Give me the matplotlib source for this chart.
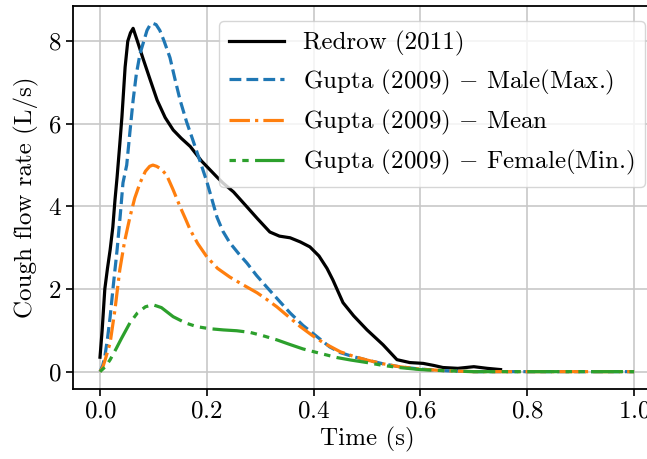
import matplotlib
matplotlib.use('Agg')
from matplotlib import pyplot as plt

# Redrow (2011)
t_redrow = [0, 0.004, 0.009, 0.014, 0.019, 0.024, 0.028, 0.032, 0.037, 0.041, 0.047, 0.052, 0.057, 0.062,
            0.07, 0.08, 0.093, 0.107, 0.122, 0.137, 0.152, 0.169, 0.19, 0.219, 0.23, 0.25, 0.275, 0.295,
            0.318, 0.336, 0.356, 0.375, 0.393, 0.41, 0.425, 0.436, 0.455, 0.475, 0.5, 0.53, 0.556, 0.58,
            0.605, 0.625, 0.642, 0.67, 0.70, 0.725, 0.75]
q_redrow = [0.35, 1.0, 2.0, 2.5, 2.95, 3.5, 4.15, 4.71, 5.5, 6.16, 7.37, 8.0, 8.2, 8.31,
            8.0, 7.6, 7.1, 6.57, 6.15, 5.85, 5.65, 5.45, 5.1, 4.71, 4.57, 4.35, 3.99, 3.7,
            3.38, 3.28, 3.24, 3.14, 3.02, 2.8, 2.5, 2.22, 1.67, 1.35, 1.01, 0.65, 0.29, 0.22,
            0.2, 0.15, 0.1, 0.08, 0.12, 0.08, 0.05]

# Gupta (2009) - male (max)
t_male = [0, 0.005, 0.009, 0.014, 0.019, 0.025, 0.032, 0.038, 0.043, 0.05, 0.056, 0.062, 0.068, 0.075,
          0.082, 0.088, 0.094, 0.099, 0.105, 0.112, 0.12, 0.131, 0.14, 0.15, 0.162, 0.174, 0.191, 0.2,
          0.21, 0.219, 0.23, 0.243, 0.26, 0.275, 0.293, 0.312, 0.335, 0.356, 0.38, 0.406, 0.43, 0.45,
          0.475, 0.5, 0.53, 0.56, 0.6, 0.65, 0.7, 0.8, 0.9, 1.0]
q_male = [0, 0.15, 0.36, 0.8, 1.33, 2.1, 2.95, 3.8, 4.57, 5.0, 5.8, 6.57, 7.2, 7.7,
          8.0, 8.26, 8.4, 8.43, 8.4, 8.26, 8.0, 7.6, 7.1, 6.57, 6.05, 5.6, 4.95, 4.6,
          4.15, 3.74, 3.4, 3.12, 2.85, 2.63, 2.33, 2.05, 1.72, 1.42, 1.12, 0.85, 0.6, 0.46,
          0.36, 0.28, 0.19, 0.12, 0.06, 0.02, 0, 0, 0, 0]

# Gupta (2009) - mean
t_mean = [0, 0.005, 0.01, 0.019, 0.028, 0.037, 0.046, 0.056, 0.065, 0.075, 0.085, 0.093, 0.099, 0.106,
          0.115, 0.125, 0.137, 0.15, 0.16, 0.169, 0.183, 0.2, 0.22, 0.243, 0.268, 0.294, 0.312, 0.331,
          0.353, 0.375, 0.397, 0.418, 0.45, 0.475, 0.5, 0.53, 0.56, 0.6, 0.65, 0.7, 0.8, 0.9, 1.0]
q_mean = [0, 0.1, 0.3, 0.7, 1.5, 2.46, 3.15, 3.74, 4.2, 4.57, 4.85, 4.97, 5.0, 4.97,
          4.9, 4.75, 4.4, 3.99, 3.7, 3.43, 3.1, 2.78, 2.5, 2.29, 2.1, 1.91, 1.75, 1.57,
          1.33, 1.09, 0.88, 0.7, 0.48, 0.37, 0.28, 0.19, 0.12, 0.06, 0.02, 0, 0, 0, 0]

# Gupta (2009) - female (min)
t_female = [0, 0.01, 0.019, 0.03, 0.04, 0.056, 0.07, 0.085, 0.099, 0.115, 0.137, 0.16, 0.181, 0.205,
            0.231, 0.256, 0.281, 0.305, 0.331, 0.355, 0.38, 0.41, 0.444, 0.47, 0.5, 0.53, 0.56, 0.6,
            0.65, 0.7, 0.8, 0.9, 1.0]
q_female = [0, 0.12, 0.29, 0.55, 0.8, 1.18, 1.42, 1.57, 1.62, 1.55, 1.33, 1.18, 1.09, 1.04,
            1.01, 0.99, 0.95, 0.87, 0.77, 0.66, 0.55, 0.45, 0.34, 0.28, 0.22, 0.15, 0.1, 0.05,
            0.02, 0, 0, 0, 0]

labels = ['Redrow (2011)', 'Gupta (2009) $-$ Male(Max.)', 'Gupta (2009) $-$ Mean',
          'Gupta (2009) $-$ Female(Min.)']

plt.rcParams['font.family'] = 'serif'
plt.rcParams['font.serif'] = ['cmr10']
plt.rcParams['mathtext.fontset'] = 'cm'
plt.rcParams['axes.formatter.use_mathtext'] = True
plt.rcParams['font.size'] = 18

fig = plt.figure(figsize=(6.47, 4.59), dpi=100)
# axes runs off the right edge like the cropped reference
ax = fig.add_axes([0.1133, 0.1525, 0.908, 0.8344])

ax.plot(t_redrow, q_redrow, color='black', lw=2.3, label=labels[0])
ax.plot(t_male, q_male, color='tab:blue', lw=2.3, ls='--', label=labels[1])
ax.plot(t_mean, q_mean, color='tab:orange', lw=2.3, ls='-.', label=labels[2])
ax.plot(t_female, q_female, color='tab:green', lw=2.3, dashes=(2, 2, 2, 2, 10, 2), label=labels[3])

ax.set_xlim(-0.05, 1.05)
ax.set_ylim(-0.42, 8.85)
ax.set_xticks([0.0, 0.2, 0.4, 0.6, 0.8, 1.0])
ax.set_yticks([0, 2, 4, 6, 8])
ax.grid(True, color='#c8c8c8', lw=1.2)
for s in ax.spines.values():
    s.set_linewidth(1.3)
ax.tick_params(width=1.2, length=5)
ax.set_xlabel('Time (s)', labelpad=3)
ax.set_ylabel('Cough flow rate (L/s)', labelpad=6)
ax.legend(loc='upper right', handlelength=2.2, bbox_to_anchor=(0.994, 0.993),
          borderpad=0.4, labelspacing=0.45, handletextpad=0.75)

fig.savefig('out.png', dpi=100)
